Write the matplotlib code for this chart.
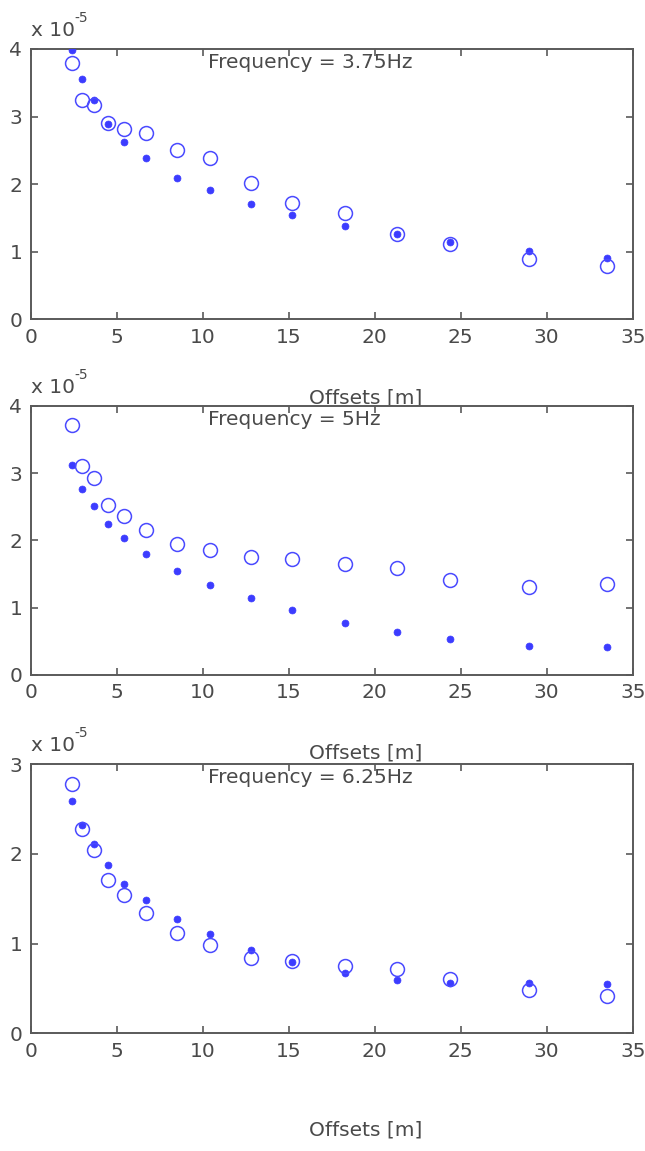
import matplotlib
matplotlib.use("Agg")
import matplotlib.pyplot as plt

offsets = [2.4, 3.0, 3.7, 4.5, 5.4, 6.7, 8.5, 10.4, 12.8, 15.2, 18.3, 21.3, 24.4, 29.0, 33.5]

freq_labels = ["Frequency = 3.75Hz", "Frequency = 5Hz", "Frequency = 6.25Hz"]

open_375 = [3.79, 3.25, 3.17, 2.91, 2.81, 2.75, 2.51, 2.38, 2.01, 1.72, 1.58, 1.26, 1.11, 0.89, 0.79]
dots_375 = [3.98, 3.55, 3.24, 2.89, 2.63, 2.39, 2.09, 1.91, 1.70, 1.54, 1.38, 1.26, 1.14, 1.01, 0.90]

open_5 = [3.72, 3.11, 2.92, 2.53, 2.36, 2.15, 1.94, 1.86, 1.76, 1.72, 1.65, 1.59, 1.41, 1.30, 1.35]
dots_5 = [3.12, 2.77, 2.51, 2.24, 2.03, 1.79, 1.55, 1.33, 1.14, 0.96, 0.77, 0.64, 0.53, 0.43, 0.41]

open_625 = [2.78, 2.28, 2.04, 1.71, 1.54, 1.34, 1.12, 0.98, 0.84, 0.81, 0.75, 0.72, 0.60, 0.48, 0.42]
dots_625 = [2.59, 2.32, 2.11, 1.87, 1.66, 1.49, 1.27, 1.11, 0.93, 0.79, 0.67, 0.59, 0.56, 0.56, 0.55]

y_tops = [4, 4, 3]
x_ticks = [0, 5, 10, 15, 20, 25, 30, 35]

W, H = 645, 1151
fig = plt.figure(figsize=(W / 100, H / 100), dpi=100)
fig.patch.set_facecolor("white")

# axes pixel boxes: (left, top, right, bottom)
boxes = [(30.7, 49, 632.7, 319.3), (30.7, 405.7, 632.7, 675), (30.7, 764, 632.7, 1033.3)]
label_y = [398, 753, 1130]

axis_col = "#5a5a5a"
text_col = "#4a4a4a"
blue = "#3c3cff"
fs = 14.5

panels = [(open_375, dots_375), (open_5, dots_5), (open_625, dots_625)]

for i, ((l, t, r, b), (opn, dts)) in enumerate(zip(boxes, panels)):
    ax = fig.add_axes([l / W, (H - b) / H, (r - l) / W, (b - t) / H])
    ax.plot(offsets, dts, linestyle="none", marker="o", markersize=5,
            markerfacecolor=blue, markeredgecolor=blue, markeredgewidth=0.5, zorder=3)
    ax.plot(offsets, opn, linestyle="none", marker="o", markersize=10,
            markerfacecolor="none", markeredgecolor="#4a4aff", markeredgewidth=1.1, zorder=4)
    ax.set_xlim(0, 35)
    ax.set_ylim(0, y_tops[i])
    ax.set_xticks(x_ticks)
    ax.set_yticks(list(range(0, y_tops[i] + 1)))
    ax.tick_params(direction="in", length=5, width=1.2, color=axis_col,
                   labelcolor=text_col, labelsize=fs, top=True, right=True,
                   pad=6)
    for s in ax.spines.values():
        s.set_color(axis_col)
        s.set_linewidth(1.4)
    h = b - t
    ax.text(10.3, 1 - 4 / h, freq_labels[i], transform=ax.get_xaxis_transform(),
            ha="left", va="top", fontsize=fs, color=text_col)
    ax.text(0.0, 1 + 13 / h, "x 10", transform=ax.transAxes, ha="left",
            va="baseline", fontsize=fs, color=text_col)
    ax.text(44 / (r - l), 1 + 27 / h, "-5", transform=ax.transAxes, ha="left",
            va="baseline", fontsize=10, color=text_col)
    ax.text((366 - l) / (r - l), -(label_y[i] - b) / h, "Offsets [m]",
            transform=ax.transAxes, ha="center", va="center", fontsize=fs,
            color=text_col, clip_on=False)

fig.savefig("out.png", dpi=100, facecolor="white")
